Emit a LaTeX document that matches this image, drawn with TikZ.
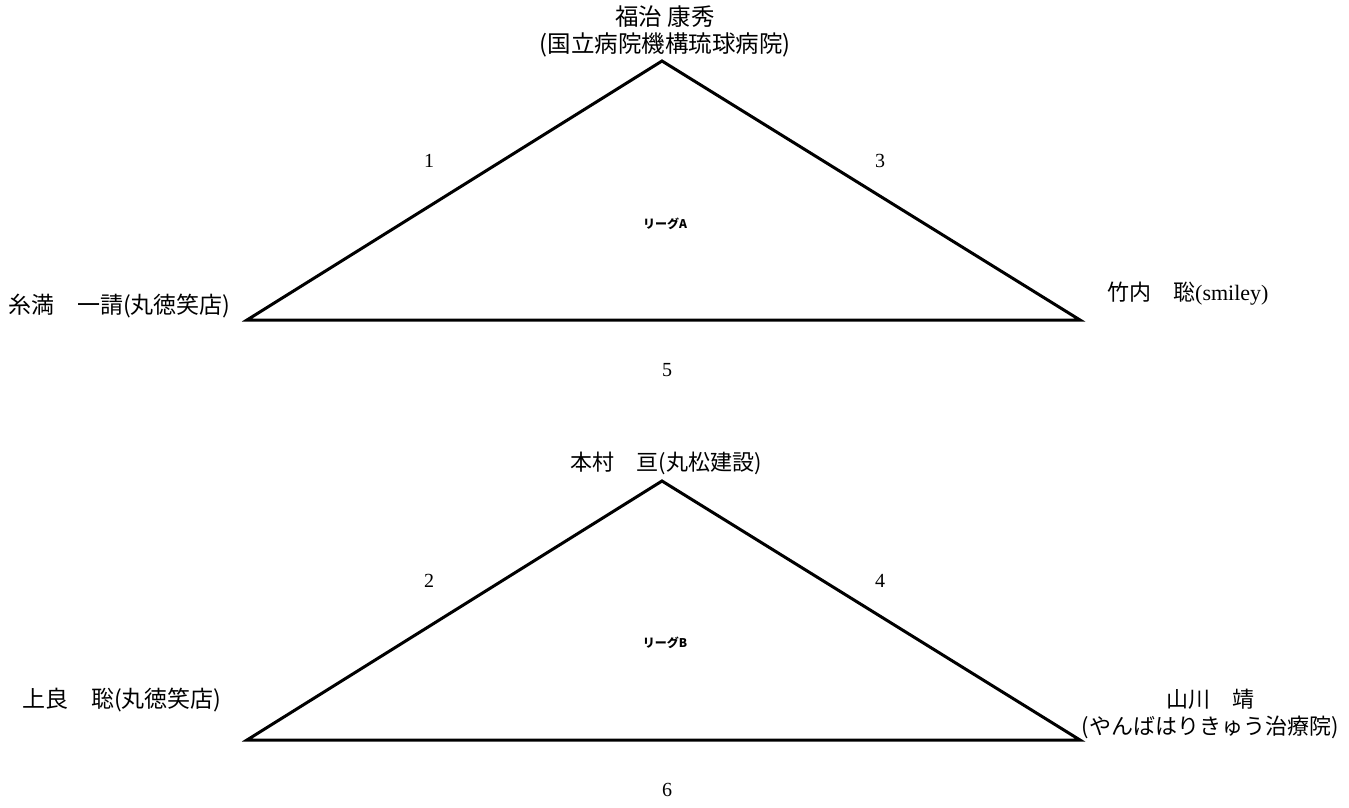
\documentclass[tikz,border=0pt]{standalone}
\usepackage{fontspec}
\setmainfont{Liberation Serif}
\newfontfamily\jp{Noto Sans CJK JP}
\begin{document}
\begin{tikzpicture}[x=1pt,y=-1pt,
  lbl/.style={font=\jp\fontsize{22}{27}\selectfont, inner sep=0pt, align=center},
  lblbig/.style={lbl, font=\jp\fontsize{23.5}{27}\selectfont},
  lblmid/.style={lbl, font=\jp\fontsize{23}{27}\selectfont},
  num/.style={font=\fontsize{20}{24}\selectfont, inner sep=0pt},
  league/.style={font=\jp\bfseries\fontsize{12}{14}\selectfont, inner sep=0pt},
  tri/.style={draw=black, line width=3pt, line join=miter}]
\useasboundingbox (0,0) rectangle (1349,807);
% Triangle A
\coordinate (a1) at (662,61);
\coordinate (a2) at (247,320);
\coordinate (a3) at (1080,320);
\draw[tri] (a1) -- (a2) -- (a3) -- cycle;
\node[lblbig] (pa1) at (665,31) {福治 康秀\\(国立病院機構琉球病院)};
\node[lblmid, anchor=west] (pa2) at (8,306) {糸満　一請(丸徳笑店)};
\node[lbl, anchor=west] (pa3) at (1107,294) {竹内　聡{\rmfamily(smiley)}};
\node[num] (n1) at (429,161) {1};
\node[num] (n3) at (880,161) {3};
\node[num] (n5) at (667,370) {5};
\node[league] (la) at (665,224) {リーグA};
% Triangle B
\coordinate (b1) at (662,481);
\coordinate (b2) at (247,740);
\coordinate (b3) at (1080,740);
\draw[tri] (b1) -- (b2) -- (b3) -- cycle;
\node[lbl, anchor=east] (pb1) at (762,463) {本村　亘(丸松建設)};
\node[lblmid, anchor=west] (pb2) at (22,700) {上良　聡(丸徳笑店)};
\node[lbl] (pb3) at (1210,714) {山川　靖\\(やんばはりきゅう治療院)};
\node[num] (n2) at (429,581) {2};
\node[num] (n4) at (880,581) {4};
\node[num] (n6) at (667,790) {6};
\node[league] (lb) at (665,643) {リーグB};
\end{tikzpicture}
\end{document}
